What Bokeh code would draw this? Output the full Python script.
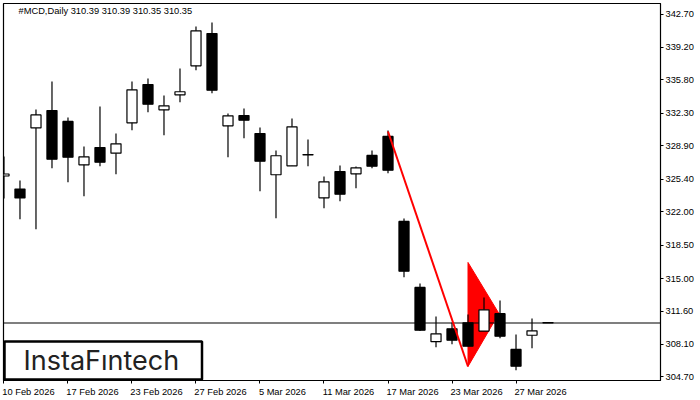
from bokeh.plotting import figure
from bokeh.models import ColumnDataSource, FixedTicker, Label, BoxAnnotation, Range1d, NumeralTickFormatter
from bokeh.embed import file_html
from bokeh.resources import INLINE

opens = [325.74,324.38,330.77,332.60,331.45,326.91,328.72,328.13,331.31,335.32,332.67,334.24,337.28,340.66,330.99,332.07,330.19,325.87,326.81,327.98,323.46,326.21,325.97,327.89,329.88,320.98,314.07,308.39,309.75,310.37,309.50,311.33,307.58,309.07,310.39]
highs = [327.78,325.27,332.70,335.63,331.86,328.83,333.02,330.19,335.63,335.95,334.17,336.99,341.39,341.81,332.28,332.80,330.82,328.41,331.76,329.56,325.69,326.84,326.74,328.41,330.50,321.29,314.49,311.03,310.40,311.24,313.02,312.71,309.15,310.82,310.39]
lows = [323.39,321.22,320.17,326.56,325.09,323.63,326.77,325.93,330.54,332.42,330.01,333.47,336.82,334.41,327.71,329.70,324.15,321.32,326.81,326.77,322.37,323.10,324.46,326.56,326.03,315.15,309.50,307.82,308.13,307.92,309.50,308.76,305.41,307.71,310.35]
closes = [325.95,323.44,332.13,327.50,327.71,327.75,327.19,329.11,334.76,333.26,333.09,334.56,340.94,334.72,332.04,331.58,327.29,327.86,330.89,327.94,325.13,323.84,326.60,326.77,326.35,315.78,309.60,309.22,308.55,307.92,311.73,308.97,305.83,309.53,310.35]

price_ticks = [342.70,339.20,335.80,332.30,328.90,325.40,322.00,318.50,315.00,311.60,308.10,304.70]
date_positions = [0,4,8,12,16,20,24,28,32]
date_labels = ["10 Feb 2026","17 Feb 2026","23 Feb 2026","27 Feb 2026","5 Mar 2026","11 Mar 2026","17 Mar 2026","23 Mar 2026","27 Mar 2026"]
label_shifts = [1.53,1.53,1.53,1.53,1.4,1.53,1.53,1.53,1.53]

pole_x = [24,29]
pole_y = [330.40,305.80]
flag_x = [29,29,30.93]
flag_y = [316.69,305.80,311.35]
last_price = 310.35
title = "#MCD,Daily  310.39 310.39 310.35 310.35"

FONT = "Liberation Sans"
FS = "9.3px"
xs, xe = -0.03, 41.03
ys, ye = 304.33, 343.80

idx = list(range(len(opens)))
src = ColumnDataSource(dict(
    x=idx, o=opens, h=highs, l=lows, c=closes,
    top=[max(a,b) for a,b in zip(opens,closes)],
    bot=[min(a,b) for a,b in zip(opens,closes)],
    fill=["white" if c>o else "black" for o,c in zip(opens,closes)],
))

p = figure(width=700, height=400, output_backend="svg", toolbar_location=None,
           x_range=Range1d(xs,xe), y_range=Range1d(ys,ye), y_axis_location="right",
           min_border_left=3, min_border_top=3, min_border_right=40, min_border_bottom=20,
           background_fill_color="white", border_fill_color="white")
p.grid.visible = False
p.outline_line_color = "black"
p.outline_line_width = 1.2

p.patch(flag_x, flag_y, fill_color="#ff0000", line_color="#ff0000", line_width=1)
p.line([xs,xe],[last_price,last_price], line_color="black", line_width=1.2)
p.segment("x","h","x","l", source=src, line_color="black", line_width=1.2)
p.vbar(x="x", top="top", bottom="bot", width=0.63, source=src, fill_color="fill", line_color="black", line_width=1.2)
p.line(pole_x, pole_y, line_color="#ff0000", line_width=2)

ya = p.yaxis[0]
ya.ticker = FixedTicker(ticks=price_ticks)
ya.formatter = NumeralTickFormatter(format="0.00")
ya.major_tick_in = 0
ya.major_tick_out = 3
ya.minor_tick_line_color = None
ya.axis_line_color = "black"
ya.major_label_text_font = FONT
ya.major_label_text_font_size = FS
ya.major_label_text_color = "black"
ya.major_label_standoff = 2

label_ticks = [d+s for d,s in zip(date_positions,label_shifts)]
xa = p.xaxis[0]
xa.ticker = FixedTicker(ticks=label_ticks, minor_ticks=date_positions)
xa.major_label_overrides = {t:l for t,l in zip(label_ticks,date_labels)}
xa.major_tick_line_color = None
xa.major_tick_in = 0
xa.major_tick_out = 0
xa.minor_tick_in = 0
xa.minor_tick_out = 3
xa.minor_tick_line_color = "black"
xa.axis_line_color = "black"
xa.major_label_text_font = FONT
xa.major_label_text_font_size = FS
xa.major_label_text_color = "black"
xa.major_label_standoff = 3

p.add_layout(Label(x=662, x_units="screen", y=last_price, y_units="data", text="310.35",
                   text_font=FONT, text_font_size=FS, text_color="white", padding=(1,4),
                   text_baseline="middle", background_fill_color="black"))
p.add_layout(Label(x=15, x_units="screen", y=369.5, y_units="screen", text=title,
                   text_font=FONT, text_font_size=FS, text_color="black",
                   text_baseline="middle"))
p.add_layout(BoxAnnotation(left=1, right=198.5, bottom=1, top=39, left_units="screen", right_units="screen",
                           bottom_units="screen", top_units="screen",
                           fill_color="white", fill_alpha=1, line_color="black", line_alpha=1, line_width=2.5))
p.add_layout(Label(x=20, x_units="screen", y=20.5, y_units="screen", text="InstaF\u0131ntech",
                   text_font="Inter", text_font_size="27px", text_color="#222222",
                   text_baseline="middle"))

open("out.html","w").write(file_html(p, INLINE))
